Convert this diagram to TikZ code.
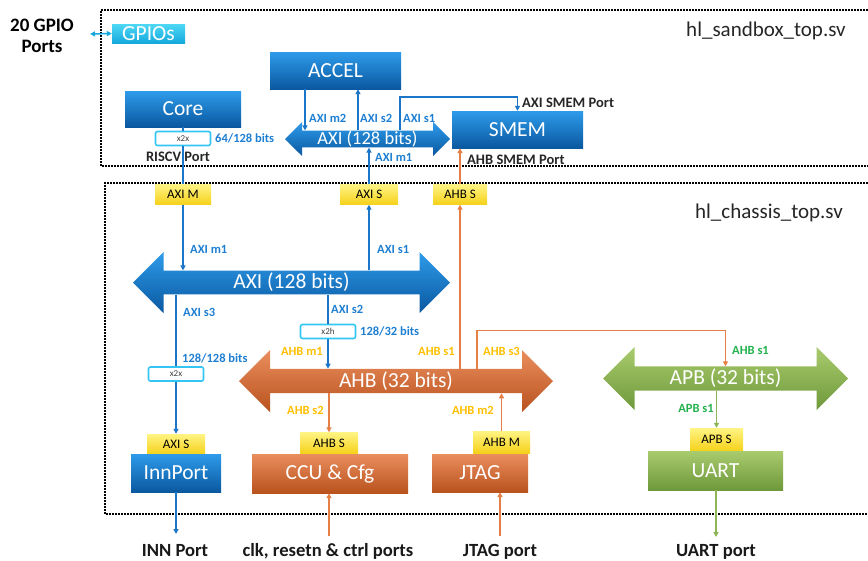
\documentclass[tikz,border=0pt]{standalone}
\usepackage{fontspec}
\setmainfont{Carlito}
\usetikzlibrary{arrows.meta,shapes.arrows}

\begin{document}
\begin{tikzpicture}[x=1pt, y=-1pt,
    block/.style={text=white, font=\fontsize{21.5}{24}\selectfont, inner sep=0pt},
    axiblock/.style={block, top color=axiTop, bottom color=axiBottom},
    ahbblock/.style={block, top color=ahbTop, bottom color=ahbBottom},
    apbblock/.style={block, top color=apbTop, bottom color=apbBottom},
    gpioblock/.style={block, top color=gpioTop, bottom color=gpioBottom},
    bus/.style={shape=double arrow, double arrow tip angle=90, inner sep=0pt, text=white, font=\fontsize{21.5}{24}\selectfont},
    axibus/.style={bus, top color=axiTop, bottom color=axiBottom},
    ahbbus/.style={bus, top color=ahbTop, bottom color=ahbBottom},
    apbbus/.style={bus, top color=apbTop, bottom color=apbBottom},
    tag/.style={top color=tagTop, bottom color=tagBottom, text=black, font=\fontsize{13}{15}\selectfont, minimum width=56pt, minimum height=20pt, inner sep=0pt},
    bridge/.style={fill=white, draw=bridgeColour, line width=1.6pt, rounded corners=2pt, minimum width=55pt, minimum height=14pt, inner sep=0pt, text=black!75, font=\fontsize{9}{10}\selectfont},
    axilabel/.style={text=axiLabel, font=\bfseries\fontsize{12.5}{14}\selectfont, inner sep=0pt},
    ahblabel/.style={axilabel, text=ahbLabel},
    apblabel/.style={axilabel, text=apbLabel},
    portlabel/.style={font=\bfseries\fontsize{14.5}{16}\selectfont, text=black!85, inner sep=0pt},
    pinlabel/.style={font=\bfseries\fontsize{18.6}{20}\selectfont, text=black!90, inner sep=0pt, anchor=base},
    filelabel/.style={font=\fontsize{21}{24}\selectfont, text=black!85, inner sep=0pt},
    tip/.tip={Triangle[length=5pt, width=5pt]},
    axiwire/.style={draw=axiLine, line width=1.5pt},
    axiarrow/.style={axiwire, -tip},
    ahbwire/.style={draw=ahbLine, line width=1.5pt},
    ahbarrow/.style={ahbwire, -tip},
    apbarrow/.style={draw=apbLine, line width=1.5pt, -tip},
    boundary/.style={line width=1.6pt, dash pattern=on 1.6pt off 1.4pt}
]
    \definecolor{axiTop}{HTML}{2E9BEA}
    \definecolor{axiBottom}{HTML}{0A58A0}
    \definecolor{ahbTop}{HTML}{EA8E5E}
    \definecolor{ahbBottom}{HTML}{B9521D}
    \definecolor{apbTop}{HTML}{A9CB6E}
    \definecolor{apbBottom}{HTML}{6E993A}
    \definecolor{gpioTop}{HTML}{4FD8F5}
    \definecolor{gpioBottom}{HTML}{14A9DC}
    \definecolor{tagTop}{HTML}{FFF483}
    \definecolor{tagBottom}{HTML}{F5D11A}
    \definecolor{bridgeColour}{HTML}{33C5F3}
    \definecolor{axiLine}{HTML}{1B75C9}
    \definecolor{ahbLine}{HTML}{E57F45}
    \definecolor{apbLine}{HTML}{8CB556}
    \definecolor{axiLabel}{HTML}{1E7FD2}
    \definecolor{ahbLabel}{HTML}{FFBF00}
    \definecolor{apbLabel}{HTML}{22B14C}

    \useasboundingbox (0,0) rectangle (868,560);

    % Dotted module boundaries
    \draw[boundary] (868,10) -- (101,10) -- (101,166) -- (868,166);
    \draw[boundary] (868,183) -- (105,183) -- (105,514) -- (868,514);
    \node[filelabel] (sandboxfile) at (766,31) {hl\_sandbox\_top.sv};
    \node[filelabel] (chassisfile) at (769,213) {hl\_chassis\_top.sv};

    % GPIOs
    \node[font=\bfseries\fontsize{19}{21}\selectfont, align=center, inner sep=0pt] (gpioports) at (42,36) {20 GPIO\\Ports};
    \node[gpioblock, minimum width=73pt, minimum height=19pt] (gpios) at (148.5,33.5) {GPIOs};
    \coordinate (gpiopin) at (90,34);
    \draw[draw=gpioBottom, line width=1.5pt, tip-tip] (gpiopin) -- (gpios.west);

    % Sandbox blocks
    \node[axiblock, minimum width=131pt, minimum height=37pt] (accel) at (335.5,70.5) {ACCEL};
    \node[axiblock, minimum width=116pt, minimum height=36pt] (core) at (183,109) {Core};
    \node[axiblock, minimum width=131pt, minimum height=37pt] (smem) at (517.5,129.5) {SMEM};
    \node[bridge] (corex2x) at (183,138.5) {x2x};
    \node[axilabel, anchor=west] (corewidth) at (215,138) {64/128 bits};
    \node[portlabel] (riscvport) at (178,157) {RISCV Port};
    \node[axibus, minimum height=165pt, minimum width=34pt, double arrow head extend=8.5pt,
          font=\fontsize{18.5}{20}\selectfont] (axitop) at (367.5,139) {AXI (128 bits)};

    % Sandbox AXI connections
    \coordinate (accelm2) at ([xshift=-30.5pt]accel.south);
    \coordinate (accels2) at ([xshift=22.5pt]accel.south);
    \coordinate (axitops1) at ([xshift=32.5pt]axitop.north);
    \draw[axiarrow] (accelm2) -- (accelm2 |- axitop.north);
    \draw[axiarrow] (accels2 |- axitop.north) -- (accels2);
    \draw[axiarrow] (axitops1) |- ([yshift=14pt]smem.north) -- (smem.north);
    \node[axilabel, anchor=west] (lblm2) at (309,118) {AXI m2};
    \node[axilabel, anchor=west] (lbls2) at (360,118) {AXI s2};
    \node[axilabel, anchor=west] (lbls1) at (403,118) {AXI s1};
    \node[axilabel, anchor=west] (lbltopm1) at (375,157) {AXI m1};
    \node[portlabel, anchor=west] (axismem) at (522,103) {AXI SMEM Port};
    \node[portlabel, anchor=west] (ahbsmem) at (467,160) {AHB SMEM Port};

    % Chassis interface tags
    \node[tag] (axim) at (183,194.5) {AXI M};
    \node[tag, minimum width=58pt] (axis) at (369,194.5) {AXI S};
    \node[tag, minimum width=54pt] (ahbsup) at (460,194.5) {AHB S};

    % Core to chassis
    \draw[axiwire] (core.south) -- (corex2x.north);
    \draw[axiwire] (corex2x.south) -- (axim.north);
    \draw[axiarrow] (axis.north) -- (axis.north |- axitop.south);
    \draw[ahbarrow] (ahbsup.north) -- (ahbsup.north |- smem.south);

    % Buses
    \node[axibus, minimum height=317pt, minimum width=61pt, double arrow head extend=15pt] (axibig) at (291.5,282.5) {AXI (128 bits)};
    \node[ahbbus, minimum height=314pt, minimum width=62pt, double arrow head extend=15pt] (ahb) at (396,381) {AHB (32 bits)};
    \node[apbbus, minimum height=245pt, minimum width=63pt, double arrow head extend=15.5pt] (apb) at (725.5,378.5) {APB (32 bits)};

    % AXI bus connections
    \node[bridge] (innx2x) at (176,374) {x2x};
    \node[bridge] (x2h) at (328,331.5) {x2h};
    \draw[axiarrow] (axim.south) -- (axim.south |- axibig.north);
    \draw[axiarrow] (axis.south |- axibig.north) -- (axis.south);
    \draw[axiwire] (innx2x.north |- axibig.south) -- (innx2x.north);
    \draw[axiwire] (x2h.north |- axibig.south) -- (x2h.north);
    \draw[axiarrow] (x2h.south) -- (x2h.south |- ahb.north);
    \node[axilabel, anchor=west] (lblm1) at (190,249) {AXI m1};
    \node[axilabel, anchor=west] (lblbigs1) at (377,249) {AXI s1};
    \node[axilabel, anchor=west] (lbls3) at (183,312) {AXI s3};
    \node[axilabel, anchor=west] (lblbigs2) at (331,309) {AXI s2};
    \node[axilabel, anchor=west] (innwidth) at (182,358) {128/128 bits};
    \node[axilabel, anchor=west] (x2hwidth) at (360,331) {128/32 bits};

    % Lower blocks
    \node[tag, minimum width=58pt] (innaxis) at (176,444) {AXI S};
    \node[axiblock, minimum width=90pt, minimum height=38pt] (innport) at (176,473) {InnPort};
    \node[tag, minimum width=58pt, minimum height=21pt] (ahbsdn) at (329,443) {AHB S};
    \node[ahbblock, minimum width=156pt, minimum height=39pt] (ccu) at (330,473.5) {CCU \& Cfg};
    \node[tag, minimum width=57pt, minimum height=22pt] (ahbmdn) at (501.5,442) {AHB M};
    \node[ahbblock, minimum width=96pt, minimum height=38pt] (jtag) at (480,473) {JTAG};
    \node[tag, minimum width=53pt, minimum height=23pt] (apbs) at (716.5,439.5) {APB S};
    \node[apbblock, minimum width=135pt, minimum height=39pt] (uart) at (715.5,470.5) {UART};

    % AHB and APB connections
    \coordinate (ahbs3) at ([xshift=81pt]ahb.north);
    \draw[axiarrow] (innx2x.south) -- (innaxis.north);
    \draw[ahbarrow] (ahbsup.south |- ahb.north) -- (ahbsup.south);
    \draw[ahbarrow] (ahbs3) |- ([yshift=36pt]apb.north) -- (apb.north);
    \draw[ahbarrow] (ahbsdn.north |- ahb.south) -- (ahbsdn.north);
    \draw[ahbarrow] (ahbmdn.north) -- (ahbmdn.north |- ahb.south);
    \draw[apbarrow] (apbs.north |- apb.south) -- (apbs.north);
    \node[ahblabel, anchor=east] (lblahbm1) at (323,351) {AHB m1};
    \node[ahblabel, anchor=east] (lblahbs1) at (455,351) {AHB s1};
    \node[ahblabel, anchor=west] (lblahbs3) at (483,351) {AHB s3};
    \node[ahblabel, anchor=east] (lblahbs2) at (324,410) {AHB s2};
    \node[ahblabel, anchor=east] (lblahbm2) at (494,410) {AHB m2};
    \node[apblabel, anchor=west] (lblapbin) at (732,350) {AHB s1};
    \node[apblabel, anchor=east] (lblapbs1) at (714,408) {APB s1};

    % External ports
    \coordinate (innpin) at (176,534);
    \coordinate (clkpin) at (329,536);
    \coordinate (jtagpin) at (500,536);
    \coordinate (uartpin) at (716,537);
    \draw[axiarrow] (innport.south) -- (innpin);
    \draw[ahbarrow] (clkpin) -- (clkpin |- ccu.south);
    \draw[ahbarrow] (jtagpin) -- (jtagpin |- jtag.south);
    \draw[apbarrow] (uart.south -| uartpin) -- (uartpin);
    \node[pinlabel] (innports) at (175,556) {INN Port};
    \node[pinlabel] (clkports) at (328,556) {clk, resetn \& ctrl ports};
    \node[pinlabel] (jtagports) at (500,556) {JTAG port};
    \node[pinlabel] (uartports) at (716,556) {UART port};

\end{tikzpicture}
\end{document}
